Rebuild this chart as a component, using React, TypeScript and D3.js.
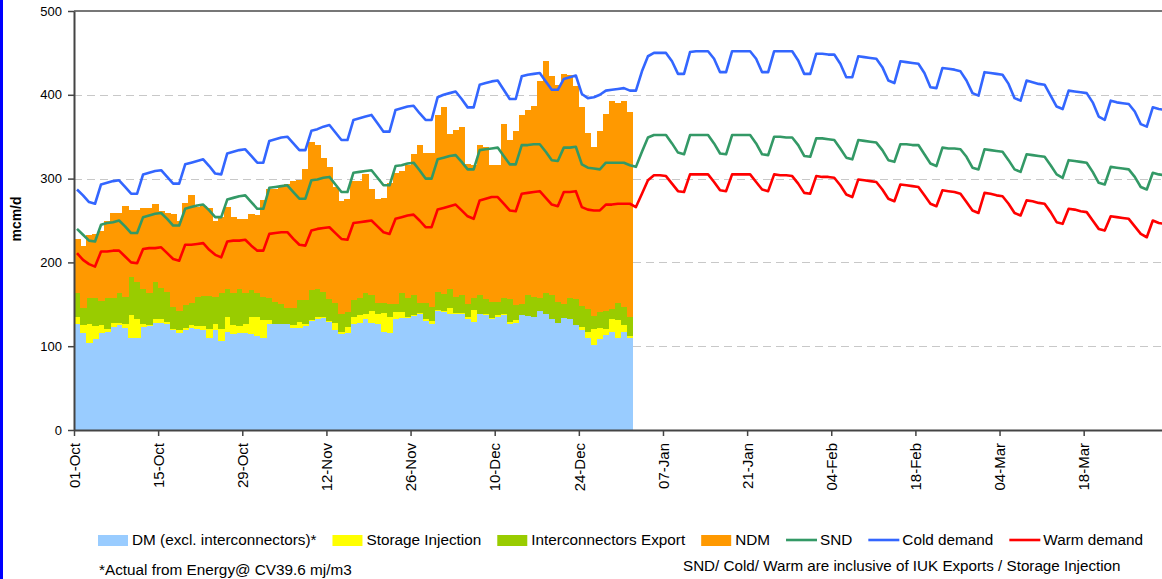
import React, { useEffect, useRef } from "react"
import * as d3 from "d3"

// tick labels, every 14th day from 01-Oct
const tickLabels = [
    "01-Oct", "15-Oct", "29-Oct", "12-Nov", "26-Nov", "10-Dec", "24-Dec",
    "07-Jan", "21-Jan", "04-Feb", "18-Feb", "04-Mar", "18-Mar",
]

// actuals, 01-Oct .. 01-Jan (mcm/d)
const dm = [
    127, 116, 104, 109, 116, 117, 123, 125, 122, 110,
    110, 123, 124, 128, 128, 126, 119, 116, 119, 122,
    121, 119, 110, 119, 106, 117, 115, 116, 116, 114,
    112, 110, 127, 126, 126, 126, 122, 122, 124, 130,
    133, 134, 129, 119, 115, 116, 126, 128, 132, 128,
    126, 117, 116, 132, 134, 134, 136, 139, 130, 127,
    142, 141, 139, 139, 139, 133, 129, 138, 137, 132,
    135, 137, 127, 128, 137, 136, 135, 142, 138, 132,
    128, 134, 133, 125, 119, 110, 101, 108, 113, 117,
    110, 117, 110,
]
const storage = [
    8, 9, 22, 15, 9, 3, 5, 3, 4, 27,
    23, 3, 1, 4, 4, 3, 2, 3, 3, 3,
    3, 5, 10, 7, 15, 18, 10, 8, 10, 21,
    23, 21, 4, 1, 1, 1, 3, 7, 2, 1,
    2, 1, 1, 9, 2, 7, 9, 9, 7, 14,
    13, 23, 19, 9, 7, 1, 1, 1, 2, 3,
    1, 1, 7, 1, 1, 2, 14, 1, 1, 2,
    2, 1, 2, 3, 0, 0, 0, 0, 0, 0,
    0, 0, 0, 0, 4, 7, 20, 14, 7, 15,
    21, 8, 2,
]
const interconnect = [
    28, 21, 32, 34, 29, 38, 30, 35, 33, 45,
    44, 42, 38, 45, 38, 36, 26, 23, 27, 26,
    35, 36, 40, 33, 42, 33, 38, 44, 37, 32,
    28, 28, 26, 26, 23, 19, 20, 26, 29, 36,
    33, 30, 26, 24, 22, 18, 20, 20, 24, 19,
    12, 12, 15, 9, 22, 23, 24, 11, 19, 17,
    22, 20, 22, 19, 21, 15, 15, 22, 18, 19,
    16, 20, 27, 18, 13, 25, 24, 16, 25, 29,
    25, 16, 25, 31, 25, 27, 15, 19, 22, 12,
    20, 22, 23,
]
const ndm = [
    65, 73, 75, 76, 84, 91, 101, 96, 108, 81,
    86, 97, 102, 93, 91, 94, 111, 108, 122, 129,
    107, 107, 105, 91, 91, 98, 91, 84, 89, 91,
    93, 115, 131, 135, 140, 148, 152, 143, 157, 177,
    172, 160, 158, 138, 134, 135, 142, 140, 143, 126,
    125, 125, 145, 157, 146, 158, 168, 189, 180, 184,
    211, 223, 185, 199, 200, 167, 158, 179, 182, 163,
    163, 207, 190, 208, 226, 221, 228, 259, 277, 261,
    259, 275, 266, 254, 238, 210, 202, 216, 235, 249,
    239, 246, 245,
]

// demand curves, 01-Oct .. 31-Mar
const snd = [
    240, 233, 226, 225,
    245, 247, 248, 250, 243, 235, 235,
    254, 256, 258, 259, 252, 244, 244,
    264, 266, 268, 269, 262, 254, 254,
    275, 277, 279, 280, 272, 264, 264,
    289, 290, 291, 292, 284, 276, 276,
    298, 299, 301, 302, 293, 284, 284,
    307, 308, 309, 310, 301, 292, 292,
    315, 316, 318, 319, 310, 300, 300,
    323, 325, 327, 328, 320, 311, 311,
    334, 335, 336, 337, 327, 317, 317,
    340, 340, 341, 341, 332, 322, 321,
    337, 337, 338, 317, 313, 312, 311,
    319, 319, 319, 319, 316, 314, 332,
    349, 352, 352, 352, 342, 331, 329,
    352, 352, 352, 352, 342, 330, 329,
    352, 352, 352, 352, 342, 329, 328,
    350, 350, 349, 349, 340, 327, 326,
    348, 348, 347, 346, 336, 325, 323,
    346, 345, 344, 343, 334, 322, 320,
    341, 341, 340, 340, 329, 318, 315,
    337, 336, 336, 335, 326, 313, 311,
    335, 334, 333, 332, 322, 311, 308,
    329, 328, 327, 326, 316, 305, 301,
    322, 321, 320, 319, 308, 295, 293,
    314, 313, 312, 311, 302, 290, 287,
    307, 305, 304,
]
const cold = [
    287, 280, 272, 270,
    293, 295, 297, 298, 290, 282, 282,
    305, 307, 309, 310, 302, 294, 294,
    317, 319, 321, 323, 315, 306, 305,
    330, 332, 334, 335, 327, 319, 319,
    345, 347, 349, 350, 342, 334, 334,
    357, 359, 362, 364, 355, 346, 346,
    370, 372, 374, 376, 366, 356, 356,
    382, 384, 386, 387, 378, 370, 370,
    397, 400, 402, 404, 395, 385, 385,
    412, 414, 416, 417, 406, 395, 395,
    422, 424, 425, 426, 416, 406, 406,
    419, 421, 423, 401, 396, 397, 400,
    405, 406, 407, 408, 405, 405, 428,
    446, 450, 450, 450, 440, 425, 425,
    451, 452, 452, 452, 443, 427, 427,
    452, 452, 452, 452, 443, 427, 427,
    452, 452, 452, 452, 441, 425, 425,
    449, 449, 448, 448, 437, 421, 421,
    446, 445, 444, 443, 433, 417, 414,
    440, 439, 438, 437, 426, 409, 408,
    432, 431, 430, 428, 417, 402, 399,
    427, 426, 425, 424, 413, 396, 393,
    417, 415, 413, 412, 399, 386, 383,
    405, 404, 403, 402, 391, 374, 370,
    393, 391, 390, 389, 380, 365, 362,
    385, 383, 382,
]
const warm = [
    211, 203, 198, 195,
    213, 213, 214, 214, 207, 200, 199,
    216, 217, 217, 218, 211, 204, 202,
    221, 221, 222, 223, 215, 209, 206,
    225, 226, 226, 227, 220, 214, 214,
    234, 235, 236, 236, 228, 221, 220,
    238, 240, 241, 242, 235, 228, 227,
    247, 248, 249, 250, 243, 236, 234,
    252, 254, 256, 257, 250, 242, 242,
    263, 265, 267, 269, 262, 255, 252,
    274, 276, 278, 278, 270, 262, 261,
    282, 283, 284, 285, 277, 269, 267,
    284, 284, 285, 266, 263, 262, 262,
    269, 269, 270, 270, 270, 266, 282,
    298, 304, 304, 303, 294, 285, 284,
    305, 305, 305, 305, 296, 286, 285,
    305, 305, 305, 305, 296, 287, 285,
    305, 304, 304, 303, 294, 283, 282,
    303, 302, 302, 301, 292, 281, 278,
    299, 298, 297, 296, 287, 276, 273,
    293, 292, 291, 290, 280, 270, 267,
    286, 285, 284, 282, 272, 262, 259,
    283, 282, 280, 279, 270, 259, 256,
    274, 273, 271, 270, 260, 248, 246,
    264, 263, 261, 260, 250, 240, 238,
    255, 254, 253, 252, 243, 234, 230,
    250, 247, 246,
]

const barKeys = ["dm", "storage", "ic", "ndm"]
const barColors = ["#99ccff", "#ffff00", "#99cc00", "#ff9900"]

const legendItems = [
    { label: "DM (excl. interconnectors)*", color: "#99ccff", kind: "box" },
    { label: "Storage Injection", color: "#ffff00", kind: "box" },
    { label: "Interconnectors Export", color: "#99cc00", kind: "box" },
    { label: "NDM", color: "#ff9900", kind: "box" },
    { label: "SND", color: "#339966", kind: "line" },
    { label: "Cold demand", color: "#3366ff", kind: "line" },
    { label: "Warm demand", color: "#ff0000", kind: "line" },
]

const FONT = "'Liberation Sans', Arial, sans-serif"

const App = () => {
    const svgRef = useRef<SVGSVGElement>(null)

    useEffect(() => {
        document.body.style.margin = "0"
        if (!svgRef.current) return
        const svg = d3.select(svgRef.current)
        svg.selectAll("*").remove()

        const left = 74
        const top = 11
        const bottom = 430
        const dayW = 6.01
        const nDays = cold.length

        const x = d3
            .scaleBand<number>()
            .domain(d3.range(nDays))
            .range([left, left + nDays * dayW])
            .padding(0)
        const xl = d3
            .scaleLinear()
            .domain([0, nDays])
            .range([left, left + nDays * dayW])
        const y = d3.scaleLinear().domain([0, 500]).range([bottom, top])

        svg.append("rect")
            .attr("x", 0)
            .attr("y", 0)
            .attr("width", 1162)
            .attr("height", 579)
            .attr("fill", "#fff")
        svg.append("rect")
            .attr("x", 0)
            .attr("y", 0)
            .attr("width", 3)
            .attr("height", 579)
            .attr("fill", "#0000ff")

        // grid
        svg.append("g")
            .selectAll("line")
            .data([100, 200, 300, 400])
            .enter()
            .append("line")
            .attr("x1", left)
            .attr("x2", 1162)
            .attr("y1", (d) => Math.round(y(d)) + 0.5)
            .attr("y2", (d) => Math.round(y(d)) + 0.5)
            .attr("stroke", "#c8c8c8")
            .attr("stroke-dasharray", "8,5")
        svg.append("line")
            .attr("x1", left)
            .attr("x2", 1162)
            .attr("y1", y(500))
            .attr("y2", y(500))
            .attr("stroke", "#777")
            .attr("stroke-width", 2)

        // stacked bars
        const rows = dm.map((d, i) => ({
            i,
            dm: d,
            storage: storage[i],
            ic: interconnect[i],
            ndm: ndm[i],
        }))
        const series = d3.stack<any>().keys(barKeys)(rows)
        svg.append("g")
            .selectAll("g")
            .data(series)
            .enter()
            .append("g")
            .attr("fill", (d, k) => barColors[k])
            .selectAll("rect")
            .data((d) => d)
            .enter()
            .append("rect")
            .attr("x", (d: any) => x(d.data.i))
            .attr("width", x.bandwidth() + 0.5)
            .attr("y", (d) => y(d[1]))
            .attr("height", (d) => Math.max(0, y(d[0]) - y(d[1])))
            .attr("shape-rendering", "crispEdges")

        // demand lines
        const line = d3
            .line<number>()
            .x((d, i) => (x(i) as number) + x.bandwidth() / 2)
            .y((d) => y(d))
        const lines = [
            { values: snd, color: "#339966" },
            { values: cold, color: "#3366ff" },
            { values: warm, color: "#ff0000" },
        ]
        svg.append("g")
            .selectAll("path")
            .data(lines)
            .enter()
            .append("path")
            .attr("d", (d) => line(d.values))
            .attr("fill", "none")
            .attr("stroke", (d) => d.color)
            .attr("stroke-width", 2.6)
            .attr("stroke-linejoin", "round")

        // axes
        const yAxis = svg
            .append("g")
            .attr("transform", "translate(" + left + ",0)")
            .call(
                d3
                    .axisLeft(y)
                    .tickValues([0, 100, 200, 300, 400, 500])
                    .tickSize(6)
                    .tickSizeOuter(0)
                    .tickPadding(6),
            )
        yAxis.select(".domain").attr("stroke", "#444").attr("stroke-width", 2)
        yAxis.selectAll(".tick line").attr("stroke", "#444").attr("stroke-width", 1.5)
        yAxis
            .selectAll("text")
            .attr("font-family", FONT)
            .attr("font-size", 13)
            .attr("fill", "#000")

        const xAxis = svg
            .append("g")
            .attr("transform", "translate(0," + bottom + ")")
            .call(
                d3
                    .axisBottom(xl)
                    .tickValues(tickLabels.map((t, i) => i * 14))
                    .tickFormat((d, i) => tickLabels[i])
                    .tickSize(6)
                    .tickSizeOuter(0),
            )
        xAxis.select(".domain").attr("stroke", "#444").attr("stroke-width", 2)
        xAxis.selectAll(".tick line").attr("stroke", "#444").attr("stroke-width", 1.5)
        xAxis
            .selectAll("text")
            .attr("font-family", FONT)
            .attr("font-size", 15)
            .attr("fill", "#000")
            .attr("transform", "rotate(-90)")
            .attr("text-anchor", "end")
            .attr("x", -13)
            .attr("y", 0)
            .attr("dy", "0.35em")

        svg.append("text")
            .attr("transform", "translate(21,219) rotate(-90)")
            .attr("text-anchor", "middle")
            .attr("font-family", FONT)
            .attr("font-size", 14)
            .attr("font-weight", "bold")
            .text("mcm/d")

        // legend
        const lg = svg.append("g").attr("font-family", FONT).attr("font-size", 15.3)
        let lx = 98
        const ly = 540
        legendItems.forEach((it) => {
            if (it.kind === "box") {
                lg.append("rect")
                    .attr("x", lx)
                    .attr("y", ly - 5)
                    .attr("width", 30)
                    .attr("height", 11)
                    .attr("fill", it.color)
            } else {
                lg.append("line")
                    .attr("x1", lx)
                    .attr("x2", lx + 31)
                    .attr("y1", ly)
                    .attr("y2", ly)
                    .attr("stroke", it.color)
                    .attr("stroke-width", 2.6)
            }
            const t = lg
                .append("text")
                .attr("x", lx + 34)
                .attr("y", ly + 5)
                .attr("fill", "#000")
                .text(it.label)
            const w = (t.node() as SVGTextElement).getComputedTextLength()
            lx += 34 + w + 16
        })

        svg.append("text")
            .attr("x", 99)
            .attr("y", 575)
            .attr("font-family", FONT)
            .attr("font-size", 15.3)
            .text("*Actual from Energy@ CV39.6 mj/m3")
        svg.append("text")
            .attr("x", 683)
            .attr("y", 571)
            .attr("font-family", FONT)
            .attr("font-size", 15.2)
            .text("SND/ Cold/ Warm are inclusive of IUK Exports / Storage Injection")
    }, [])

    return (
        <svg
            ref={svgRef}
            width={1162}
            height={579}
            style={{ display: "block" }}
        />
    )
}

export default App
